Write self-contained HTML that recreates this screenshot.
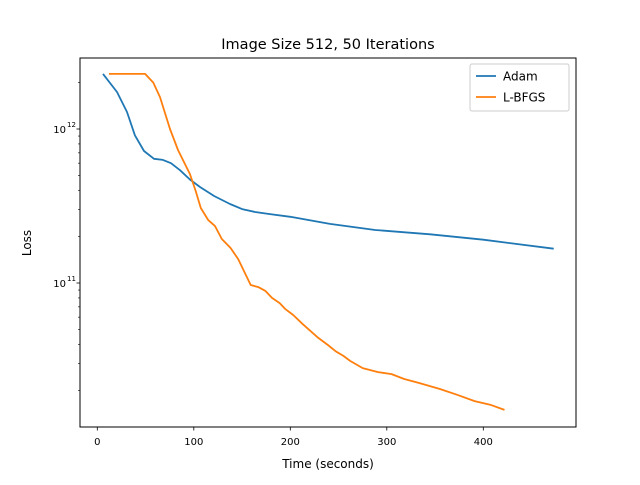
<!DOCTYPE html>
<html><head><meta charset="utf-8"><style>
body{margin:0;background:#fff;font-family:"Liberation Sans","DejaVu Sans",sans-serif}
</style></head><body>
<svg id="chart" width="640" height="480" xmlns="http://www.w3.org/2000/svg" font-family="DejaVu Sans, Liberation Sans, sans-serif">
<rect width="640" height="480" fill="#fff"/>
<text x="328" y="49" font-size="14.5" text-anchor="middle">Image Size 512, 50 Iterations</text>
<text x="328" y="468" font-size="12" text-anchor="middle">Time (seconds)</text>
<text transform="translate(31,243) rotate(-90)" font-size="12" text-anchor="middle">Loss</text>
<g id="ticks"></g>
<g id="series"></g>
<rect x="80" y="58" width="496" height="369" fill="none" stroke="#000" stroke-width="1"/>
<g>
<rect x="470" y="64" width="99" height="47" rx="2" fill="#fff" stroke="#ccc"/>
<line x1="476" y1="76" x2="496" y2="76" stroke="#1f77b4" stroke-width="1.8"/>
<text x="503" y="80.5" font-size="12">Adam</text>
<line x1="476" y1="97" x2="496" y2="97" stroke="#ff7f0e" stroke-width="1.8"/>
<text x="503" y="101.5" font-size="12">L-BFGS</text>
</g>
</svg>
<script>
const xTicks=[0,100,200,300,400];
const yMajor=[11,12];
const adamT=[5.9,20.4,30.8,39,48.4,58.8,68,76.4,85.7,96,106.4,121,137.5,150,163.5,179,200,241,288,345,400,473];
const adamLoss=[2.28e12,1.74e12,1.29e12,9.1e11,7.2e11,6.4e11,6.3e11,6.0e11,5.4e11,4.7e11,4.2e11,3.67e11,3.26e11,3.02e11,2.89e11,2.8e11,2.69e11,2.42e11,2.21e11,2.07e11,1.91e11,1.67e11];
const lbfgsT=[12.1,49.5,58,65,75.3,83.6,96,102,107.3,114.8,122,129,138,146,159,166.8,174,181,189,194.5,203,213,229,239,247,255,262,275,291,305,318,334,355,373,391,407,422];
const lbfgsLoss=[2.28e12,2.28e12,2.0e12,1.61e12,1.0e12,7.3e11,5.1e11,3.96e11,3.07e11,2.57e11,2.34e11,1.93e11,1.69e11,1.43e11,9.7e10,9.4e10,8.9e10,8.0e10,7.4e10,6.8e10,6.2e10,5.4e10,4.4e10,3.96e10,3.6e10,3.36e10,3.12e10,2.8e10,2.64e10,2.56e10,2.38e10,2.24e10,2.05e10,1.88e10,1.71e10,1.62e10,1.5e10];
const NS="http://www.w3.org/2000/svg";
const X=t=>97.3+t*0.965;
const Y=v=>129-(Math.log10(v)-12)*154;
const yTop=58,yBot=427;
function mk(tag,attrs,parent){const e=document.createElementNS(NS,tag);for(const k in attrs)e.setAttribute(k,attrs[k]);parent.appendChild(e);return e;}
const tg=document.getElementById('ticks');
xTicks.forEach(t=>{
  const l=mk('line',{x1:X(t),x2:X(t),y1:427,y2:430.5,stroke:'#000','stroke-width':0.8},tg);
  
  
  const tx=mk('text',{x:X(t),y:445,'font-size':10,'text-anchor':'middle'},tg);
  tx.textContent=t;
  
  
});
for(let d=10;d<=12;d++){for(let m=1;m<10;m++){
  const v=m*Math.pow(10,d);const y=Y(v);
  if(y<yTop||y>yBot)continue;
  const l=mk('line',{x1:80,x2:m===1?76.5:78,y1:y,y2:y,stroke:'#000','stroke-width':m===1?0.8:0.6},tg);
  
  
}}
yMajor.forEach(d=>{
  const y=Y(Math.pow(10,d));
  const tx=mk('text',{x:66,y:y+4,'font-size':10,'text-anchor':'end'},tg);
  tx.textContent='10';
  
  
  const s=mk('text',{x:67,y:y-2,'font-size':7},tg);
  s.textContent=String(d);
  
  
});
const sg=document.getElementById('series');
function line(ts,vs,color,name){
  const p=mk('polyline',{points:ts.map((t,i)=>X(t).toFixed(1)+','+Y(vs[i]).toFixed(1)).join(' '),fill:'none',stroke:color,'stroke-width':1.8,'stroke-linejoin':'round'},sg);
  
  
}
line(adamT,adamLoss,'#1f77b4','adam-line');
line(lbfgsT,lbfgsLoss,'#ff7f0e','lbfgs-line');
</script>
</body></html>
